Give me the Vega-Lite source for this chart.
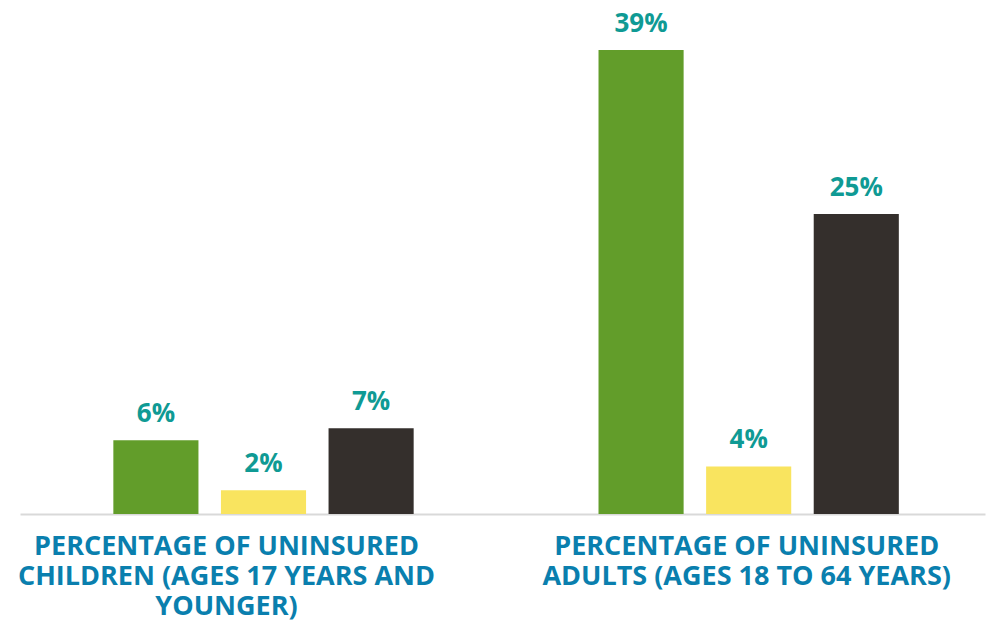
{
  "$schema": "https://vega.github.io/schema/vega-lite/v6.json",
  "width": 965,
  "height": 476,
  "autosize": {"type": "none"},
  "padding": {"left": 20, "top": 38, "right": 3, "bottom": 110},
  "background": "#ffffff",
  "config": {"view": {"stroke": null}, "font": "Open Sans"},
  "data": {
    "values": [
      {"group": "children", "series": "Series 1", "value": 0.062},
      {"group": "children", "series": "Series 2", "value": 0.02},
      {"group": "children", "series": "Series 3", "value": 0.072},
      {"group": "adults", "series": "Series 1", "value": 0.39},
      {"group": "adults", "series": "Series 2", "value": 0.04},
      {"group": "adults", "series": "Series 3", "value": 0.252}
    ]
  },
  "encoding": {
    "x": {
      "field": "group",
      "type": "nominal",
      "sort": ["children", "adults"],
      "scale": {"paddingInner": 0.381, "paddingOuter": 0.185, "align": 0.52},
      "axis": {
        "title": null,
        "domainColor": "#d9d9d9",
        "domainWidth": 2,
        "ticks": false,
        "labelAngle": 0,
        "labelFont": "Open Sans",
        "labelFontWeight": "bold",
        "labelFontSize": 27,
        "labelColor": "#0a7fae",
        "labelLineHeight": 30,
        "labelPadding": 19,
        "labelBaseline": "top",
        "labelLimit": 0,
        "labelOffset": {"condition": {"test": "datum.value == 'children'", "value": -37}, "value": -2},
        "labelExpr": "datum.value == 'children' ? ['PERCENTAGE OF UNINSURED', 'CHILDREN (AGES 17 YEARS AND', 'YOUNGER)'] : ['PERCENTAGE OF UNINSURED', 'ADULTS (AGES 18 TO 64 YEARS)']"
      }
    },
    "xOffset": {
      "field": "series",
      "type": "nominal",
      "scale": {"paddingInner": 0.209, "paddingOuter": 0}
    },
    "y": {
      "field": "value",
      "type": "quantitative",
      "scale": {"domain": [0, 0.4], "nice": false},
      "axis": null
    }
  },
  "layer": [
    {
      "mark": {"type": "bar"},
      "encoding": {
        "color": {
          "field": "series",
          "type": "nominal",
          "scale": {"domain": ["Series 1", "Series 2", "Series 3"], "range": ["#629d2a", "#f9e45f", "#342f2c"]},
          "legend": null
        }
      }
    },
    {
      "mark": {"type": "text", "baseline": "alphabetic", "dy": -18, "font": "Open Sans", "fontWeight": "bold", "fontSize": 26, "color": "#0f9a94"},
      "encoding": {
        "text": {"field": "value", "type": "quantitative", "format": ".0%"}
      }
    }
  ]
}
